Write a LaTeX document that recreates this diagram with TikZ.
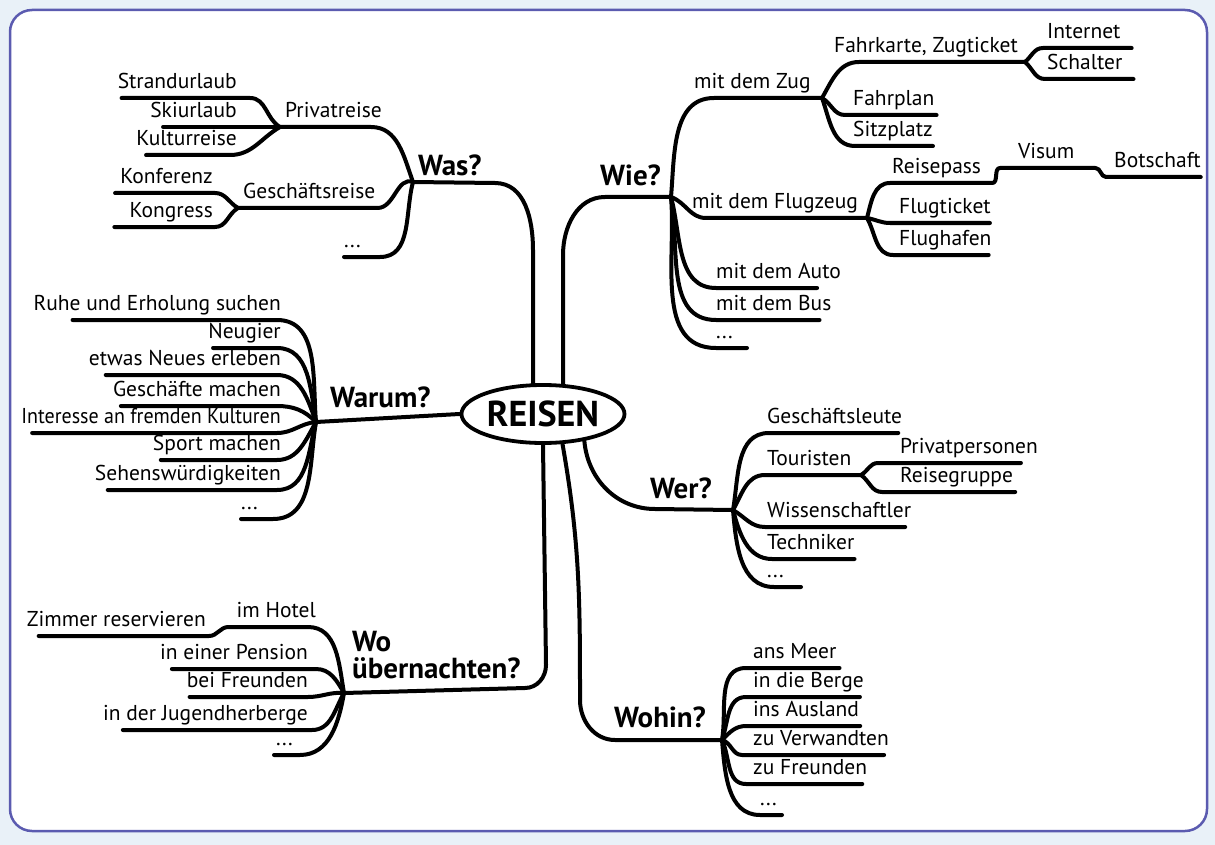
\documentclass[tikz,border=0pt]{standalone}
\usepackage{fontspec}
\setmainfont{PT Sans}
\usetikzlibrary{shapes.geometric}
\definecolor{framecol}{HTML}{5B5BB0}
\definecolor{bgcol}{HTML}{E9F1F8}
\tikzset{
  branch/.style={line width=4pt,line cap=round,line join=round},
  leaf/.style={font=\fontsize{21.5}{23}\selectfont,inner xsep=0pt,inner ysep=4pt,text depth=5pt},
  topic/.style={font=\bfseries\fontsize{29}{27}\selectfont,inner xsep=0pt,inner ysep=4pt,text depth=5pt},
}
\begin{document}
\begin{tikzpicture}[x=1pt,y=1pt]
\fill[bgcol](0,0)rectangle(1215,-845);
\filldraw[fill=white,draw=framecol,line width=2.5pt,rounded corners=22pt](10,-10)rectangle(1207,-831);
\useasboundingbox(0,0)rectangle(1215,-845);
% centre
\node[draw,ellipse,line width=3.8pt,minimum width=163pt,minimum height=58pt,inner sep=0pt,font=\bfseries\fontsize{36}{38}\selectfont](reisen)at(543,-414){REISEN};

% Was?
\coordinate(washub)at(413,-182);
\coordinate(privhub)at(280,-127);
\coordinate(geschhub)at(238,-208);
\node[topic,anchor=south west](was)at(418,-185){Was?};
\node[leaf,anchor=south west](privat)at(285,-127){Privatreise};
\node[leaf,anchor=south east](strand)at(237,-98){Strandurlaub};
\node[leaf,anchor=south east](ski)at(237,-127){Skiurlaub};
\node[leaf,anchor=south east](kultur)at(237,-155){Kulturreise};
\node[leaf,anchor=south west](gesch)at(243,-208){Geschäftsreise};
\node[leaf,anchor=south east](konf)at(213,-193){Konferenz};
\node[leaf,anchor=south east](kongr)at(213,-227){Kongress};
\node[leaf,anchor=south east](wasdots)at(361,-257){...};
\draw[branch](reisen.108)--(533,-250)to[out=90,in=0](495,-183)--(washub);
\draw[branch](privhub)to[out=150,in=0]([xshift=13pt]strand.south east)--([xshift=4pt]strand.south west);
\draw[branch](privhub)--([xshift=13pt]ski.south west);
\draw[branch](privhub)to[out=-150,in=0]([xshift=-7pt]kultur.south east)--([xshift=10pt]kultur.south west);
\draw[branch](privhub)--([xshift=-11pt]privat.south east)to[out=0,in=110](washub);
\draw[branch](geschhub)--([xshift=2pt]gesch.south east)to[out=0,in=160](washub);
\draw[branch](geschhub)to[out=150,in=0]([xshift=2pt]konf.south east)--([xshift=-5pt]konf.south west);
\draw[branch](geschhub)to[out=-150,in=0]([xshift=2pt]kongr.south east)--([xshift=-15pt]kongr.south west);
\draw[branch](washub)to[out=-105,in=0]([xshift=19pt]wasdots.south east)--(wasdots.south west);

% Wie?
\coordinate(wiehub)at(671,-197);
\coordinate(zughub)at(822,-98);
\coordinate(fahrhub)at(1025,-62);
\coordinate(flughub)at(867,-218);
\node[topic,anchor=south west](wie)at(600,-195){Wie?};
\node[leaf,anchor=south west](zug)at(694,-98){mit dem Zug};
\node[leaf,anchor=south west](fahrk)at(834,-62){Fahrkarte, Zugticket};
\node[leaf,anchor=south west](internet)at(1047,-48){Internet};
\node[leaf,anchor=south west](schalter)at(1047,-79){Schalter};
\node[leaf,anchor=south west](fahrplan)at(853,-115){Fahrplan};
\node[leaf,anchor=south west](sitz)at(853,-146){Sitzplatz};
\node[leaf,anchor=south west](flugz)at(692,-218){mit dem Flugzeug};
\node[leaf,anchor=south west](reisep)at(892,-183){Reisepass};
\node[leaf,anchor=south west](visum)at(1018,-168){Visum};
\node[leaf,anchor=south west](botsch)at(1114,-177){Botschaft};
\node[leaf,anchor=south west](flugt)at(899,-223){Flugticket};
\node[leaf,anchor=south west](flugh)at(899,-255){Flughafen};
\node[leaf,anchor=south west](auto)at(716,-288){mit dem Auto};
\node[leaf,anchor=south west](bus)at(716,-320){mit dem Bus};
\node[leaf,anchor=south west](wiedots)at(716,-348){...};
\draw[branch](reisen.56)--(563,-255)to[out=90,in=180](605,-197)--(wiehub);
\draw[branch](wiehub)to[out=85,in=180]([xshift=20pt]zug.south west)--(zughub);
\draw[branch](zughub)to[out=60,in=180]([xshift=25pt]fahrk.south west)--(fahrhub);
\draw[branch](fahrhub)to[out=40,in=180]([xshift=-4pt]internet.south west)--([xshift=11pt]internet.south east);
\draw[branch](fahrhub)to[out=-40,in=180]([xshift=-2pt]schalter.south west)--([xshift=11pt]schalter.south east);
\draw[branch](zughub)to[out=-30,in=180]([xshift=-8pt]fahrplan.south west)--([xshift=2pt]fahrplan.south east);
\draw[branch](zughub)to[out=-70,in=180]([xshift=2pt]sitz.south west)--(sitz.south east);
\draw[branch](wiehub)to[out=-20,in=180]([xshift=14pt]flugz.south west)--(flughub);
\draw[branch](flughub)to[out=75,in=180]([xshift=-2pt]reisep.south west)--([xshift=11pt]reisep.south east)
  to[out=0,in=180]([xshift=-18pt]visum.south west)--([xshift=21pt]visum.south east)
  to[out=0,in=180]([xshift=-8pt]botsch.south west)--(botsch.south east);
\draw[branch](flughub)to[out=-10,in=180]([xshift=-9pt]flugt.south west)--([xshift=-1pt]flugt.south east);
\draw[branch](flughub)to[out=-60,in=180]([xshift=-6pt]flugh.south west)--([xshift=-3pt]flugh.south east);
\draw[branch](wiehub)to[out=-75,in=180](auto.south west)--([xshift=-24pt]auto.south east);
\draw[branch](wiehub)to[out=-80,in=180](bus.south west)--([xshift=-12pt]bus.south east);
\draw[branch](wiehub)to[out=-85,in=180](wiedots.south west)--([xshift=14pt]wiedots.south east);

% Warum?
\coordinate(warumhub)at(316,-422);
\node[topic,anchor=south west](warum)at(330,-417){Warum?};
\node[leaf,anchor=south east](ruhe)at(281,-320){Ruhe und Erholung suchen};
\node[leaf,anchor=south east](neugier)at(281,-348){Neugier};
\node[leaf,anchor=south east](neues)at(281,-375){etwas Neues erleben};
\node[leaf,anchor=south east](geschm)at(281,-406){Geschäfte machen};
\node[leaf,anchor=south east,font=\fontsize{21.5}{23}\selectfont\addfontfeature{FakeStretch=0.93}](interesse)at(281,-433){Interesse an fremden Kulturen};
\node[leaf,anchor=south east](sport)at(281,-460){Sport machen};
\node[leaf,anchor=south east](sehens)at(281,-490){Sehenswürdigkeiten};
\node[leaf,anchor=south east](warumdots)at(258,-519){...};
\draw[branch](warumhub)--(reisen.west);
\draw[branch](warumhub)to[out=95,in=0]([xshift=-4pt]ruhe.south east)--([xshift=39pt]ruhe.south west);
\draw[branch](warumhub)to[out=100,in=0]([xshift=-4pt]neugier.south east)--([xshift=5pt]neugier.south west);
\draw[branch](warumhub)to[out=110,in=0]([xshift=-4pt]neues.south east)--([xshift=17pt]neues.south west);
\draw[branch](warumhub)to[out=135,in=0]([xshift=-4pt]geschm.south east)--([xshift=8pt]geschm.south west);
\draw[branch](warumhub)to[out=185,in=0]([xshift=-4pt]interesse.south east)--([xshift=11pt]interesse.south west);
\draw[branch](warumhub)to[out=240,in=0]([xshift=-4pt]sport.south east)--([xshift=8pt]sport.south west);
\draw[branch](warumhub)to[out=255,in=0]([xshift=-4pt]sehens.south east)--([xshift=13pt]sehens.south west);
\draw[branch](warumhub)to[out=260,in=0]([xshift=15pt]warumdots.south east)--(warumdots.south west);

% Wo uebernachten?
\coordinate(wohub)at(344,-693);
\node[topic,anchor=south west,align=left](wo)at(352,-688){Wo\\übernachten?};
\node[leaf,anchor=south east](hotel)at(316,-627){im Hotel};
\node[leaf,anchor=south east](zimmer)at(206,-636){Zimmer reservieren};
\node[leaf,anchor=south east](pension)at(308,-669){in einer Pension};
\node[leaf,anchor=south east](beifr)at(308,-697){bei Freunden};
\node[leaf,anchor=south east](jugend)at(308,-730){in der Jugendherberge};
\node[leaf,anchor=south east](wodots)at(293,-755){...};
\draw[branch](reisen.south)--(546,-665)to[out=-90,in=0](525,-688)--(wohub);
\draw[branch](wohub)to[out=100,in=0]([xshift=-8pt]hotel.south east)--([xshift=-8pt]hotel.south west)
  to[out=180,in=0]([xshift=3pt]zimmer.south east)--([xshift=12pt]zimmer.south west);
\draw[branch](wohub)to[out=120,in=0]([xshift=8pt]pension.south east)--([xshift=12pt]pension.south west);
\draw[branch](wohub)to[out=175,in=0](beifr.south east)--([xshift=3pt]beifr.south west);
\draw[branch](wohub)to[out=-120,in=0]([xshift=4pt]jugend.south east)--([xshift=20pt]jugend.south west);
\draw[branch](wohub)to[out=-100,in=0]([xshift=7pt]wodots.south east)--([xshift=-2pt]wodots.south west);

% Wer?
\coordinate(werhub)at(733,-510);
\coordinate(tourhub)at(861,-475);
\node[topic,anchor=south west](wer)at(650,-508){Wer?};
\node[leaf,anchor=south west](geschl)at(767,-433){Geschäftsleute};
\node[leaf,anchor=south west](touristen)at(767,-475){Touristen};
\node[leaf,anchor=south west](privp)at(900,-463){Privatpersonen};
\node[leaf,anchor=south west](reiseg)at(900,-492){Reisegruppe};
\node[leaf,anchor=south west](wiss)at(767,-527){Wissenschaftler};
\node[leaf,anchor=south west](techn)at(767,-559){Techniker};
\node[leaf,anchor=south west](werdots)at(767,-587){...};
\draw[branch](reisen.327)to[out=-85,in=180](655,-509)--(werhub);
\draw[branch](werhub)to[out=80,in=180]([xshift=2pt]geschl.south west)--([xshift=-4pt]geschl.south east);
\draw[branch](werhub)to[out=60,in=180]([xshift=-2pt]touristen.south west)--(tourhub);
\draw[branch](tourhub)to[out=30,in=180]([xshift=-22pt]privp.south west)--([xshift=-17pt]privp.south east);
\draw[branch](tourhub)to[out=-35,in=180]([xshift=-18pt]reiseg.south west)--([xshift=2pt]reiseg.south east);
\draw[branch](werhub)to[out=-30,in=180]([xshift=-2pt]wiss.south west)--([xshift=-6pt]wiss.south east);
\draw[branch](werhub)to[out=-75,in=180]([xshift=5pt]techn.south west)--(techn.south east);
\draw[branch](werhub)to[out=-85,in=180]([xshift=7pt]werdots.south west)--([xshift=17pt]werdots.south east);

% Wohin?
\coordinate(wohinhub)at(722,-740);
\node[topic,anchor=south west](wohin)at(614,-737){Wohin?};
\node[leaf,anchor=south west](meer)at(753,-668){ans Meer};
\node[leaf,anchor=south west](berge)at(753,-697){in die Berge};
\node[leaf,anchor=south west](ausland)at(753,-726){ins Ausland};
\node[leaf,anchor=south west](verw)at(753,-755){zu Verwandten};
\node[leaf,anchor=south west](zufr)at(753,-784){zu Freunden};
\node[leaf,anchor=south west](wohindots)at(760,-815){...};
\draw[branch](reisen.303)to[out=-80,in=90](580,-700)to[out=-90,in=180](615,-740)--(wohinhub);
\draw[branch](wohinhub)to[out=80,in=180]([xshift=-7pt]meer.south west)--([xshift=3pt]meer.south east);
\draw[branch](wohinhub)to[out=70,in=180]([xshift=-7pt]berge.south west)--([xshift=-4pt]berge.south east);
\draw[branch](wohinhub)to[out=45,in=180]([xshift=-7pt]ausland.south west)--([xshift=1pt]ausland.south east);
\draw[branch](wohinhub)to[out=-15,in=180]([xshift=-11pt]verw.south west)--([xshift=-5pt]verw.south east);
\draw[branch](wohinhub)to[out=-65,in=180]([xshift=-7pt]zufr.south west)--([xshift=-5pt]zufr.south east);
\draw[branch](wohinhub)to[out=-85,in=180](wohindots.south west)--([xshift=5pt]wohindots.south east);
\end{tikzpicture}
\end{document}
